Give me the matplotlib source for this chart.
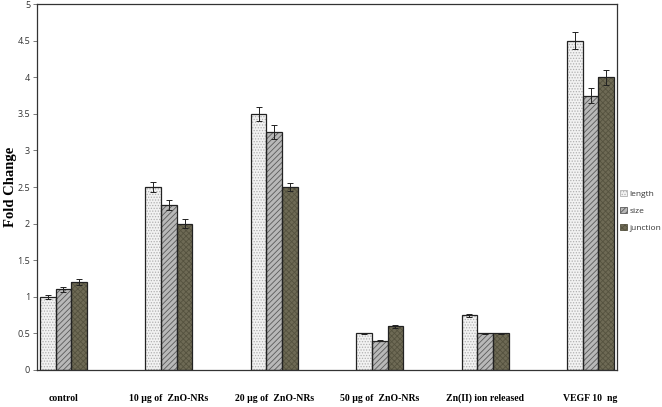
import matplotlib
matplotlib.use("Agg")
import matplotlib.pyplot as plt
import numpy as np
from matplotlib.patches import Patch

categories = ["control", "10 µg of  ZnO-NRs", "20 µg of  ZnO-NRs", "50 µg of  ZnO-NRs",
              "Zn(II) ion released", "VEGF 10  ng"]
series_names = ["length", "size", "junction"]
length = [1.0, 2.5, 3.5, 0.5, 0.75, 4.5]
size = [1.1, 2.25, 3.25, 0.4, 0.5, 3.75]
junction = [1.2, 2.0, 2.5, 0.6, 0.5, 4.0]
length_err = [0.03, 0.07, 0.1, 0.01, 0.02, 0.12]
size_err = [0.03, 0.07, 0.1, 0.01, 0.01, 0.1]
junction_err = [0.04, 0.06, 0.06, 0.02, 0.01, 0.1]
yticks = [0, 0.5, 1, 1.5, 2, 2.5, 3, 3.5, 4, 4.5, 5]

values = [length, size, junction]
errors = [length_err, size_err, junction_err]
faces = ["#f2f2f2", "#b8b8b8", "#6e6a55"]
hatch_cols = ["#b0b0b0", "#5a5a5a", "#55523f"]
hatches = ["......", "//////", "xxxxxx"]

plt.rcParams['hatch.linewidth'] = 0.6
fig = plt.figure(figsize=(6.62, 4.07), dpi=100)
ax = fig.add_axes([0.056, 0.091, 0.876, 0.899])

x = np.arange(len(categories))
w = 0.149
for k in range(3):
    pos = x + (k - 1) * w
    ax.bar(pos, values[k], w, color=faces[k], edgecolor=hatch_cols[k], hatch=hatches[k],
           linewidth=0, zorder=2)
    ax.bar(pos, values[k], w, facecolor="none", edgecolor="#222222", linewidth=0.9, zorder=3)
    ax.errorbar(pos, values[k], yerr=errors[k], fmt="none", ecolor="#222222",
                elinewidth=0.7, capsize=2.5, capthick=0.7, zorder=4)

ax.set_xlim(-0.25, 5.25)
ax.set_ylim(0, 5)
ax.set_yticks(yticks)
ax.set_yticklabels([f"{t:g}" for t in yticks], fontfamily="Open Sans", fontsize=6.5,
                   color="#333333")
ax.set_xticks(x)
ax.set_xticklabels(categories, fontfamily="Liberation Serif", fontweight="bold", fontsize=7)
ax.tick_params(axis="x", length=0, pad=17)
ax.tick_params(axis="y", length=3, width=0.6, color="#666666", pad=2)
for s in ax.spines.values():
    s.set_linewidth(0.9)
    s.set_color("#333333")
ax.set_ylabel("Fold Change", fontfamily="Liberation Serif", fontweight="bold", fontsize=10.5)
ax.yaxis.set_label_coords(-0.034, 0.5)

handles = [Patch(facecolor=faces[k], edgecolor=hatch_cols[k], hatch=hatches[k], linewidth=0.6)
           for k in range(3)]
leg = fig.legend(handles, series_names, loc="center left", bbox_to_anchor=(0.936, 0.482),
                 frameon=False, prop={"family": "Open Sans", "size": 6},
                 handlelength=0.8, handleheight=0.8, handletextpad=0.25, labelspacing=1.1,
                 borderaxespad=0, borderpad=0.1)
for t in leg.get_texts():
    t.set_color("#333333")

fig.savefig("out.png", dpi=100)
